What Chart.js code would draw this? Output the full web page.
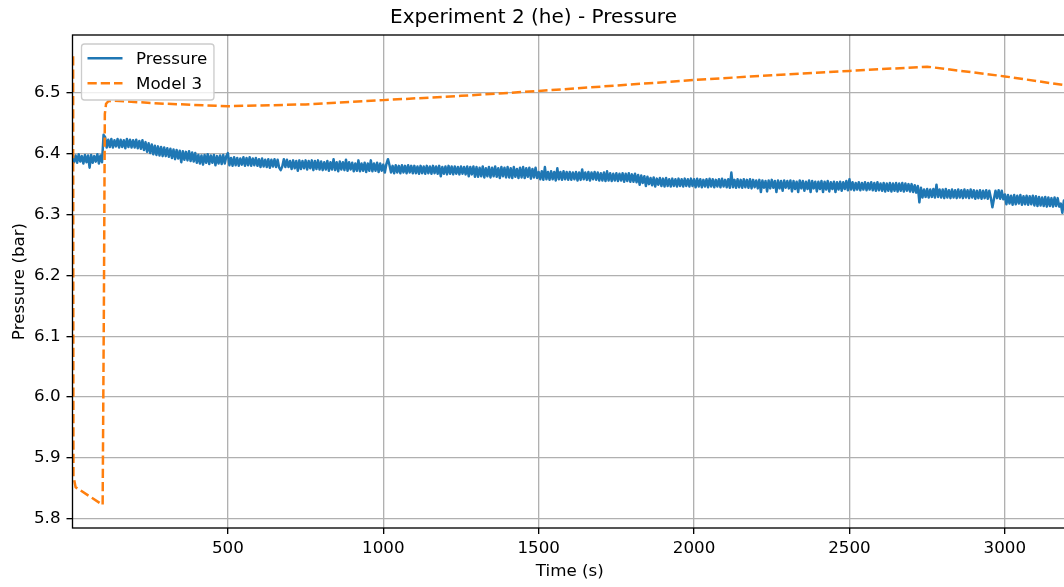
<!DOCTYPE html>
<html lang="en">
<head>
<meta charset="UTF-8">
<title>Experiment 2 (he) - Pressure</title>
<script src="https://cdn.jsdelivr.net/npm/chart.js"></script>
<style>
  html, body { margin: 0; padding: 0; background: #fff; overflow: hidden; }
  #wrap { width: 1076px; height: 587px; }
</style>
</head>
<body>
<div id="wrap"><canvas id="grafica"></canvas></div>
<script>
// measured pressure, one reading every 5 s from t = 0 (one row = 100 s)
const pressureStart = 0;
const pressureStep = 5;
const pressureValues = [
  6.398, 6.386, 6.397, 6.385, 6.399, 6.387, 6.396, 6.384, 6.398, 6.386, 6.397, 6.377, 6.398, 6.385, 6.396, 6.387, 6.399, 6.384, 6.397, 6.386,
  6.431, 6.427, 6.410, 6.423, 6.411, 6.424, 6.410, 6.422, 6.412, 6.424, 6.410, 6.423, 6.411, 6.422, 6.409, 6.424, 6.411, 6.423, 6.410, 6.422,
  6.410, 6.423, 6.409, 6.421, 6.408, 6.422, 6.406, 6.419, 6.403, 6.417, 6.401, 6.415, 6.399, 6.413, 6.398, 6.412, 6.397, 6.411, 6.396, 6.410,
  6.396, 6.409, 6.395, 6.408, 6.393, 6.407, 6.391, 6.406, 6.392, 6.405, 6.386, 6.404, 6.390, 6.403, 6.389, 6.404, 6.388, 6.402, 6.387, 6.401,
  6.385, 6.398, 6.384, 6.397, 6.382, 6.398, 6.385, 6.399, 6.383, 6.397, 6.385, 6.398, 6.381, 6.396, 6.384, 6.397, 6.383, 6.398, 6.384, 6.396,
  6.401, 6.381, 6.393, 6.380, 6.394, 6.381, 6.393, 6.380, 6.392, 6.382, 6.394, 6.380, 6.393, 6.381, 6.394, 6.380, 6.392, 6.381, 6.393, 6.380,
  6.391, 6.378, 6.392, 6.379, 6.390, 6.378, 6.391, 6.377, 6.390, 6.379, 6.391, 6.378, 6.390, 6.377, 6.373, 6.379, 6.391, 6.378, 6.390, 6.378,
  6.388, 6.375, 6.389, 6.376, 6.388, 6.372, 6.389, 6.375, 6.388, 6.376, 6.389, 6.374, 6.388, 6.376, 6.389, 6.373, 6.388, 6.375, 6.389, 6.374,
  6.387, 6.373, 6.386, 6.374, 6.388, 6.372, 6.386, 6.374, 6.391, 6.373, 6.386, 6.371, 6.387, 6.374, 6.386, 6.373, 6.390, 6.372, 6.386, 6.374,
  6.385, 6.371, 6.384, 6.372, 6.389, 6.371, 6.384, 6.372, 6.385, 6.370, 6.384, 6.372, 6.389, 6.371, 6.384, 6.372, 6.385, 6.370, 6.384, 6.372,
  6.382, 6.369, 6.383, 6.391, 6.381, 6.369, 6.380, 6.368, 6.381, 6.369, 6.380, 6.368, 6.381, 6.369, 6.380, 6.368, 6.381, 6.369, 6.380, 6.368,
  6.380, 6.368, 6.379, 6.367, 6.380, 6.368, 6.379, 6.367, 6.380, 6.368, 6.379, 6.367, 6.380, 6.368, 6.379, 6.367, 6.380, 6.363, 6.378, 6.367,
  6.379, 6.366, 6.380, 6.367, 6.379, 6.366, 6.379, 6.367, 6.378, 6.366, 6.379, 6.367, 6.378, 6.366, 6.379, 6.363, 6.378, 6.366, 6.379, 6.362,
  6.378, 6.362, 6.377, 6.363, 6.379, 6.361, 6.376, 6.363, 6.378, 6.361, 6.377, 6.363, 6.379, 6.362, 6.376, 6.360, 6.378, 6.363, 6.377, 6.361,
  6.378, 6.361, 6.376, 6.360, 6.378, 6.362, 6.375, 6.360, 6.377, 6.361, 6.378, 6.360, 6.376, 6.362, 6.377, 6.359, 6.375, 6.361, 6.377, 6.360,
  6.370, 6.358, 6.371, 6.357, 6.378, 6.358, 6.370, 6.357, 6.371, 6.358, 6.370, 6.356, 6.376, 6.358, 6.370, 6.357, 6.371, 6.358, 6.370, 6.357,
  6.370, 6.357, 6.369, 6.358, 6.370, 6.356, 6.369, 6.357, 6.374, 6.358, 6.369, 6.357, 6.370, 6.356, 6.369, 6.358, 6.370, 6.357, 6.369, 6.356,
  6.368, 6.356, 6.369, 6.355, 6.371, 6.356, 6.368, 6.355, 6.367, 6.356, 6.368, 6.355, 6.367, 6.356, 6.368, 6.354, 6.367, 6.355, 6.368, 6.354,
  6.366, 6.354, 6.367, 6.353, 6.365, 6.349, 6.364, 6.352, 6.363, 6.347, 6.362, 6.350, 6.360, 6.348, 6.361, 6.346, 6.359, 6.349, 6.360, 6.347,
  6.359, 6.346, 6.360, 6.347, 6.358, 6.346, 6.359, 6.347, 6.358, 6.346, 6.359, 6.347, 6.358, 6.346, 6.359, 6.347, 6.358, 6.346, 6.359, 6.347,
  6.358, 6.345, 6.359, 6.346, 6.358, 6.345, 6.357, 6.346, 6.358, 6.345, 6.359, 6.346, 6.358, 6.345, 6.357, 6.346, 6.358, 6.345, 6.359, 6.346,
  6.357, 6.345, 6.358, 6.344, 6.369, 6.345, 6.357, 6.344, 6.358, 6.345, 6.357, 6.344, 6.358, 6.345, 6.357, 6.344, 6.358, 6.343, 6.357, 6.345,
  6.356, 6.343, 6.357, 6.337, 6.356, 6.344, 6.355, 6.338, 6.356, 6.343, 6.357, 6.344, 6.355, 6.337, 6.356, 6.343, 6.355, 6.339, 6.356, 6.344,
  6.355, 6.343, 6.356, 6.338, 6.355, 6.342, 6.354, 6.337, 6.356, 6.343, 6.355, 6.339, 6.354, 6.342, 6.356, 6.337, 6.355, 6.343, 6.354, 6.338,
  6.354, 6.342, 6.355, 6.337, 6.354, 6.341, 6.355, 6.338, 6.353, 6.342, 6.354, 6.337, 6.353, 6.341, 6.354, 6.339, 6.353, 6.342, 6.355, 6.340,
  6.358, 6.341, 6.353, 6.340, 6.352, 6.341, 6.353, 6.340, 6.352, 6.341, 6.353, 6.340, 6.352, 6.341, 6.353, 6.340, 6.352, 6.339, 6.353, 6.340,
  6.351, 6.339, 6.352, 6.338, 6.351, 6.339, 6.352, 6.338, 6.351, 6.339, 6.352, 6.338, 6.351, 6.339, 6.352, 6.338, 6.351, 6.339, 6.350, 6.338,
  6.350, 6.337, 6.348, 6.336, 6.347, 6.320, 6.344, 6.328, 6.341, 6.329, 6.342, 6.328, 6.341, 6.329, 6.342, 6.328, 6.349, 6.329, 6.341, 6.328,
  6.341, 6.327, 6.342, 6.328, 6.340, 6.327, 6.341, 6.328, 6.340, 6.327, 6.341, 6.328, 6.340, 6.327, 6.341, 6.328, 6.340, 6.327, 6.341, 6.328,
  6.340, 6.326, 6.339, 6.327, 6.340, 6.326, 6.339, 6.327, 6.340, 6.326, 6.339, 6.327, 6.312, 6.326, 6.339, 6.327, 6.340, 6.326, 6.339, 6.325,
  6.333, 6.317, 6.332, 6.318, 6.331, 6.316, 6.332, 6.317, 6.331, 6.318, 6.332, 6.316, 6.330, 6.317, 6.331, 6.316, 6.330, 6.317, 6.331, 6.315,
  6.330, 6.314, 6.329, 6.315, 6.328, 6.314, 6.329, 6.313, 6.328, 6.314, 6.327, 6.313, 6.328, 6.314, 6.327, 6.313, 6.318, 6.303, 6.323, 6.311,
  6.318
];

// model 3 curve
const modelTime = [2, 3, 10, 97, 101, 104, 108, 115, 130, 300, 500, 750, 1000, 1250, 1500, 1750, 2000, 2250, 2500, 2750, 3000, 3200];
const modelValues = [6.560, 5.870, 5.852, 5.823, 6.150, 6.465, 6.482, 6.486, 6.487, 6.482, 6.478, 6.481, 6.488, 6.495, 6.503, 6.512, 6.521, 6.529, 6.536, 6.543, 6.527, 6.512];

const xTicks = [500, 1000, 1500, 2000, 2500, 3000];
const yTicks = [5.8, 5.9, 6.0, 6.1, 6.2, 6.3, 6.4, 6.5];
const xRange = [0, 3200];
const yRange = [5.785, 6.595];

Chart.defaults.font.family = '"DejaVu Sans", sans-serif';
Chart.defaults.color = '#000';

// black frame round the plot area, like matplotlib spines
const marco = {
  id: 'marco',
  afterDatasetsDraw(chart) {
    const {ctx, chartArea: ca} = chart;
    ctx.save();
    ctx.strokeStyle = '#000';
    ctx.lineWidth = 1.33;
    ctx.strokeRect(ca.left, ca.top, ca.right - ca.left, ca.bottom - ca.top);
    ctx.restore();
  }
};

// legend box in the upper-left corner of the plot
const leyenda = {
  id: 'leyenda',
  afterDraw(chart) {
    const {ctx, chartArea: ca} = chart;
    const sets = chart.data.datasets;
    const x0 = ca.left + 9, y0 = ca.top + 9;
    const textX = x0 + 54.5;
    ctx.save();
    ctx.font = '16.7px "DejaVu Sans"';
    const maxW = Math.max(...sets.map(d => ctx.measureText(d.label).width));
    const w = textX - x0 + maxW + 6.7, h = 56;
    ctx.beginPath();
    ctx.roundRect(x0, y0, w, h, 3);
    ctx.fillStyle = 'rgba(255,255,255,0.8)';
    ctx.fill();
    ctx.lineWidth = 1.33;
    ctx.strokeStyle = '#cccccc';
    ctx.stroke();
    sets.forEach((d, i) => {
      const y = y0 + 14.3 + i * 25;
      ctx.beginPath();
      ctx.setLineDash(d.borderDash || []);
      ctx.strokeStyle = d.borderColor;
      ctx.lineWidth = d.borderWidth;
      ctx.moveTo(x0 + 6, y);
      ctx.lineTo(x0 + 41, y);
      ctx.stroke();
      ctx.setLineDash([]);
      ctx.fillStyle = '#000';
      ctx.textBaseline = 'middle';
      ctx.fillText(d.label, textX, y + 1);
    });
    ctx.restore();
  }
};

new Chart(document.getElementById('grafica'), {
  type: 'line',
  data: {
    datasets: [
      {
        label: 'Pressure',
        data: pressureValues.map((v, i) => ({x: pressureStart + i * pressureStep, y: v})),
        borderColor: '#1f77b4', borderWidth: 2.5, borderJoinStyle: 'round',
        pointRadius: 0, tension: 0, order: 1, clip: 0
      },
      {
        label: 'Model 3',
        data: modelTime.map((t, i) => ({x: t, y: modelValues[i]})),
        borderColor: '#ff7f0e', borderWidth: 2.5, borderDash: [9.25, 4],
        pointRadius: 0, tension: 0, order: 0, clip: 0
      }
    ]
  },
  options: {
    responsive: true,
    maintainAspectRatio: false,
    animation: false,
    events: [],
    layout: { padding: { left: 0, right: 9, top: 0, bottom: 0 } },
    plugins: {
      legend: { display: false },
      tooltip: { enabled: false },
      title: {
        display: true,
        text: 'Experiment 2 (he) - Pressure',
        color: '#000',
        font: { size: 20, weight: 'normal' },
        padding: { top: 6, bottom: 5 }
      }
    },
    scales: {
      x: {
        type: 'linear',
        min: xRange[0], max: xRange[1],
        afterBuildTicks: s => { s.ticks = xTicks.map(v => ({value: v})); },
        afterFit: s => { s.height = 59; },
        ticks: { font: { size: 16.7 }, padding: 5, maxRotation: 0, callback: v => String(v) },
        grid: { color: '#b0b0b0', lineWidth: 1.33, tickLength: 6, tickColor: '#000', tickWidth: 1.33 },
        border: { display: false },
        title: { display: true, text: 'Time (s)', font: { size: 16.7 }, padding: { top: 0, bottom: 5 } }
      },
      y: {
        min: yRange[0], max: yRange[1],
        afterBuildTicks: s => { s.ticks = yTicks.map(v => ({value: v})); },
        afterFit: s => { s.width = 72.5; },
        ticks: { font: { size: 16.7 }, padding: 6, callback: v => v.toFixed(1) },
        grid: { color: '#b0b0b0', lineWidth: 1.33, tickLength: 6, tickColor: '#000', tickWidth: 1.33 },
        border: { display: false },
        title: { display: true, text: 'Pressure (bar)', font: { size: 16.7 }, padding: { top: 9.5, bottom: 0 } }
      }
    }
  },
  plugins: [marco, leyenda]
});
</script>
</body>
</html>
